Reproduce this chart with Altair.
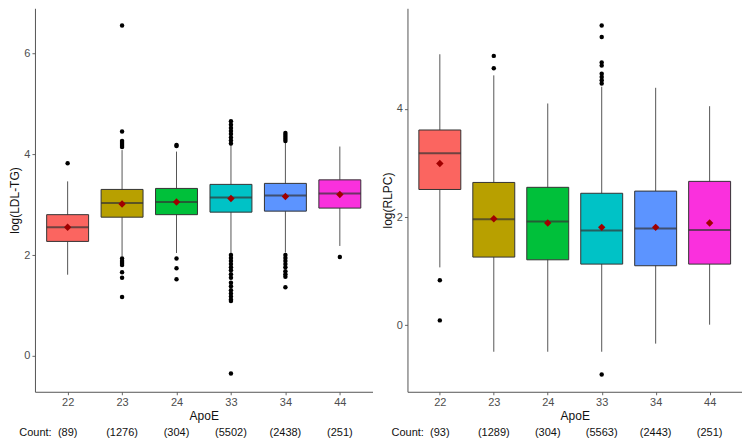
import altair as alt
import pandas as pd

# ---------------- data ----------------
apoe = ["22", "23", "24", "33", "34", "44"]
colors = ["#FB6560", "#B8A000", "#00C03A", "#00C2C6", "#5C94FF", "#FA30DD"]

# Left panel: log(LDL-TG)
ldl_q1 = [2.27, 2.75, 2.80, 2.85, 2.87, 2.93]
ldl_med = [2.55, 3.03, 3.05, 3.14, 3.18, 3.22]
ldl_q3 = [2.80, 3.30, 3.32, 3.40, 3.42, 3.49]
ldl_lo = [1.61, 1.97, 2.04, 2.03, 2.05, 2.18]
ldl_hi = [3.46, 4.08, 4.05, 4.20, 4.24, 4.15]
ldl_mean = [2.55, 3.01, 3.05, 3.12, 3.16, 3.20]
ldl_count = [89, 1276, 304, 5502, 2438, 251]
ldl_out = {
    "22": [3.82],
    "23": [6.55, 4.45, 4.26, 4.22, 4.18, 4.14, 1.93, 1.88, 1.84, 1.80, 1.66, 1.55, 1.17],
    "24": [4.18, 4.16, 1.93, 1.74, 1.52],
    "33": [4.65, 4.58, 4.52, 4.46, 4.40, 4.33, 4.27, 4.21, 2.00, 1.94, 1.88, 1.82,
           1.76, 1.70, 1.62, 1.55, 1.45, 1.38, 1.30, 1.24, 1.18, 1.12, 1.09, -0.35],
    "34": [4.42, 4.38, 4.34, 4.30, 4.26, 2.00, 1.94, 1.88, 1.82, 1.76, 1.68, 1.62, 1.57, 1.36],
    "44": [1.96],
}

# Right panel: log(RLPC)
rl_q1 = [2.51, 1.26, 1.21, 1.13, 1.10, 1.13]
rl_med = [3.18, 1.96, 1.92, 1.75, 1.79, 1.76]
rl_q3 = [3.61, 2.64, 2.55, 2.44, 2.48, 2.66]
rl_lo = [1.07, -0.49, -0.49, -0.49, -0.34, 0.01]
rl_hi = [5.01, 4.62, 4.10, 4.41, 4.39, 4.05]
rl_mean = [2.99, 1.97, 1.89, 1.81, 1.81, 1.89]
rl_count = [93, 1289, 304, 5563, 2443, 251]
rl_out = {
    "22": [0.83, 0.09],
    "23": [4.98, 4.75],
    "33": [5.54, 5.33, 4.86, 4.80, 4.65, 4.59, 4.53, 4.47, -0.91],
}

H = 384
FONT = "Liberation Sans"


def panel(q1, med, q3, lo, hi, mean, counts, outliers, ytitle, ydomain, yticks, width):
    box = pd.DataFrame({
        "ApoE": apoe, "q1": q1, "med": med, "q3": q3, "lo": lo, "hi": hi,
        "mean": mean, "label": ["(%d)" % c for c in counts],
    })
    out = pd.DataFrame(
        [{"ApoE": k, "v": v} for k, vals in outliers.items() for v in vals]
    )
    first = pd.DataFrame({"ApoE": [apoe[0]], "t": ["Count:"]})

    xenc = alt.X(
        "ApoE:N",
        title="ApoE",
        sort=apoe,
        scale=alt.Scale(type="point", padding=0.6, domain=apoe),
        axis=alt.Axis(labelAngle=0, titlePadding=3),
    )
    yscale = alt.Scale(domain=ydomain, nice=False, zero=False)
    yaxis = alt.Axis(values=yticks, title=ytitle, titlePadding=2)

    whisk = alt.Chart(box).mark_rule(color="#555555", strokeWidth=1).encode(
        x=xenc, y=alt.Y("lo:Q", scale=yscale, axis=yaxis), y2="hi:Q"
    )
    bars = alt.Chart(box).mark_bar(size=42, stroke="#333333", strokeWidth=1).encode(
        x=xenc,
        y=alt.Y("q1:Q", scale=yscale, axis=yaxis),
        y2="q3:Q",
        color=alt.Color("ApoE:N", scale=alt.Scale(domain=apoe, range=colors), legend=None),
    )
    medians = alt.Chart(box).mark_tick(size=42, thickness=2, color="#333333").encode(
        x=xenc, y=alt.Y("med:Q", scale=yscale, axis=yaxis)
    )
    outs = alt.Chart(out).mark_point(filled=True, color="black", size=20, opacity=1).encode(
        x=xenc, y=alt.Y("v:Q", scale=yscale, axis=yaxis)
    )
    means = alt.Chart(box).mark_point(
        shape="diamond", filled=True, color="#A00000", size=55, opacity=1
    ).encode(x=xenc, y=alt.Y("mean:Q", scale=yscale, axis=yaxis))
    cnt = alt.Chart(box).mark_text(
        fontSize=11, color="#111111", baseline="middle", align="center"
    ).encode(x=xenc, y=alt.value(H + 41), text="label:N")
    cnt_lab = alt.Chart(first).mark_text(
        fontSize=11, color="#111111", baseline="middle", align="right", dx=-16
    ).encode(x=xenc, y=alt.value(H + 41), text="t:N")

    return alt.layer(whisk, bars, medians, outs, means, cnt, cnt_lab).properties(
        width=width, height=H
    )


left = panel(ldl_q1, ldl_med, ldl_q3, ldl_lo, ldl_hi, ldl_mean, ldl_count, ldl_out,
             "log(LDL-TG)", [-0.71, 6.89], [0, 2, 4, 6], 338)
right = panel(rl_q1, rl_med, rl_q3, rl_lo, rl_hi, rl_mean, rl_count, rl_out,
              "log(RLPC)", [-1.23, 5.86], [0, 2, 4], 335)

chart = alt.hconcat(left, right, spacing=8).properties(padding=0).configure(
    font=FONT
).configure_view(stroke=None).configure_axis(
    grid=False,
    domainColor="#555555",
    domainWidth=1,
    tickColor="#666666",
    tickSize=3,
    labelColor="#4d4d4d",
    labelFontSize=11,
    labelPadding=2,
    titleFontSize=12,
    titleFontWeight="normal",
    titleColor="#111111",
    labelFont=FONT,
    titleFont=FONT,
)

chart.save("out.html", embed_options={"renderer": "svg", "actions": False})
